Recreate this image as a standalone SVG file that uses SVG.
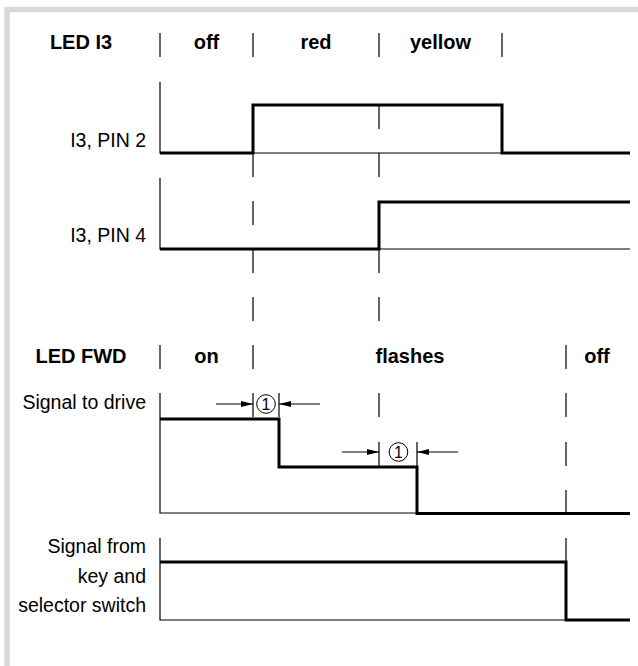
<svg xmlns="http://www.w3.org/2000/svg" width="638" height="666" viewBox="0 0 638 666">
<defs>
<marker id="ah" viewBox="0 0 12 6" refX="12" refY="3" markerWidth="12" markerHeight="6" markerUnits="userSpaceOnUse" orient="auto">
<path d="M0,0 L12,3 L0,6 Z" fill="#000"/>
</marker>
</defs>
<style>
.frame{fill:none;stroke:#d9d9d9;stroke-width:5.5}
.thin{fill:none;stroke:#000;stroke-width:1.2}
.sig{fill:none;stroke:#000;stroke-width:3}
.lbl{font-family:"Liberation Sans",Arial,sans-serif;font-size:19.5px;fill:#000;text-anchor:end}
.hdr{font-family:"Liberation Sans",Arial,sans-serif;font-size:20px;font-weight:bold;fill:#000;text-anchor:middle}
.num{font-family:"Liberation Sans",Arial,sans-serif;font-size:16px;fill:#000;text-anchor:middle}
</style>
<rect width="638" height="666" fill="#fff"/>
<path class="frame" d="M7,666 V9.5 H638"/>

<g id="header1">
<text class="hdr" x="81" y="49">LED I3</text>
<text class="hdr" x="206.5" y="49">off</text>
<text class="hdr" x="316" y="49">red</text>
<text class="hdr" x="440.5" y="49">yellow</text>
<path class="thin" d="M160,33 V57 M253,33 V57 M379,33 V57 M502,33 V57"/>
</g>

<g id="pin2">
<text class="lbl" x="146" y="147">I3, PIN 2</text>
<path class="thin" d="M160,82 V153 H630"/>
<path class="sig" d="M160,153 H253 V105 H502 V153 H630"/>
</g>

<g id="pin4">
<text class="lbl" x="146" y="242">I3, PIN 4</text>
<path class="thin" d="M160,178 V249 H630"/>
<path class="sig" d="M160,249 H379 V202 H630"/>
</g>

<g id="header2">
<text class="hdr" x="81" y="363">LED FWD</text>
<text class="hdr" x="206.5" y="363">on</text>
<text class="hdr" x="410" y="363">flashes</text>
<text class="hdr" x="597" y="363">off</text>
<path class="thin" d="M160,345 V369 M253,345 V369 M566,345 V369"/>
</g>

<g id="drive">
<text class="lbl" x="146" y="409">Signal to drive</text>
<path class="thin" d="M160,393 V513 H630"/>
<path class="sig" d="M160,419 H279 V467 H417 V513.5 H630"/>
</g>

<g id="key">
<text class="lbl" x="146" y="553">Signal from</text>
<text class="lbl" x="146" y="583">key and</text>
<text class="lbl" x="146" y="612">selector switch</text>
<path class="thin" d="M160,538 V620 H630"/>
<path class="sig" d="M160,562 H566 V620 H630"/>
</g>

<g id="connectors">
<path class="thin" d="M253,153 V177 M253,201 V225 M253,249 V273 M253,297 V321"/>
<path class="thin" d="M379,105 V129 M379,153 V177 M379,249 V273 M379,297 V321"/>
<path class="thin" d="M253,393 V417 M279,393 V417"/>
<path class="thin" d="M379,393 V417 M379,442 V466 M417,442 V466"/>
<path class="thin" d="M566,393 V417 M566,442 V466 M566,490 V514 M566,538 V562"/>
</g>

<g id="delay1">
<circle cx="266" cy="404" r="9.3" fill="none" stroke="#000" stroke-width="1"/>
<text class="num" x="266" y="409.8">1</text>
<line class="thin" x1="216" y1="404" x2="253" y2="404" marker-end="url(#ah)"/>
<line class="thin" x1="320" y1="404" x2="279" y2="404" marker-end="url(#ah)"/>
</g>

<g id="delay2">
<circle cx="398.5" cy="452" r="9.3" fill="none" stroke="#000" stroke-width="1"/>
<text class="num" x="398.5" y="457.8">1</text>
<line class="thin" x1="342" y1="452" x2="379" y2="452" marker-end="url(#ah)"/>
<line class="thin" x1="458" y1="452" x2="417" y2="452" marker-end="url(#ah)"/>
</g>
</svg>
